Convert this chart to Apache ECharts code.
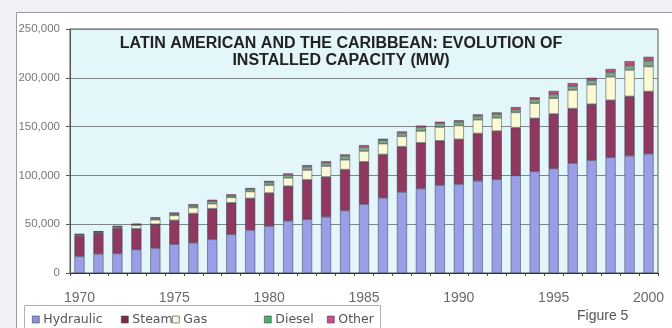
<!DOCTYPE html>
<html>
<head>
<meta charset="utf-8">
<script src="https://cdn.jsdelivr.net/npm/echarts@6/dist/echarts.min.js"></script>
<style>
  html, body { margin: 0; padding: 0; background: #f1f1f5; }
  #chart { width: 672px; height: 328px; }
</style>
</head>
<body>
<div id="chart"></div>
<script>
// Installed capacity in Latin America and the Caribbean, MW per year
const years = ['1970','1971','1972','1973','1974','1975','1976','1977','1978','1979',
  '1980','1981','1982','1983','1984','1985','1986','1987','1988','1989',
  '1990','1991','1992','1993','1994','1995','1996','1997','1998','1999','2000'];
const hydraulic = [17000,19500,20000,24000,25500,29500,31000,34500,39500,44000,
  48000,53500,55000,57500,64000,70500,77000,83000,86500,90000,
  91000,94500,96000,100000,104000,107000,112500,115500,118500,120000,122000];
const steam = [21000,21500,26000,21500,24500,24500,30000,31500,32500,32500,
  34000,35500,40500,41000,42000,43500,44500,46500,47000,45500,
  46000,48500,49500,49000,54500,56000,56000,57500,58500,61000,64000];
const gas = [1000,1000,1200,3500,4500,5000,6000,5000,5500,7000,
  8000,8500,10000,11000,10000,11000,11000,10500,12000,14000,
  14000,14000,13500,15500,15500,16000,19000,20000,24000,27000,25500];
const diesel = [500,300,500,800,1500,1500,2000,2500,2000,2500,
  3000,3000,3500,3500,4000,4000,3500,3500,4000,4000,
  4000,4000,4000,3000,4000,4000,4000,4500,4500,4500,6000];
const other = [500,300,500,700,1000,1500,1500,1500,1000,1000,
  1300,1500,1500,1500,1500,2000,1500,1500,1500,1500,
  1500,1500,1500,2500,2000,3500,3000,2500,3500,4500,4000];
const yTicks = [0, 50000, 100000, 150000, 200000, 250000];

const seriesDefs = [
  { name: 'Hydraulic', data: hydraulic, color: '#9a9ee6' },
  { name: 'Steam', data: steam, color: '#8f3862' },
  { name: 'Gas', data: gas, color: '#fcfad2' },
  { name: 'Diesel', data: diesel, color: '#7fa583' },
  { name: 'Other', data: other, color: '#c24c75' }
];
const legendIcons = { Hydraulic: '#8e92d8', Steam: '#7a2a4e', Gas: '#f4f4e0', Diesel: '#4fae6a', Other: '#c8508a' };
const legendLeft = { Hydraulic: 27, Steam: 116, Gas: 167, Diesel: 259, Other: 322 };

const fmt = v => v === 0 ? '0' : v.toLocaleString('en-US');

const chart = echarts.init(document.getElementById('chart'), null, { renderer: 'canvas' });

chart.setOption({
  backgroundColor: 'transparent',
  animation: false,
  graphic: [
    { type: 'rect', z: -10, shape: { x: 16.5, y: 12.5, width: 670, height: 330 },
      style: { fill: '#ffffff', stroke: '#9a9aa0', lineWidth: 1 } },
    { type: 'rect', z: 0, shape: { x: 24.5, y: 305.5, width: 356, height: 30 },
      style: { fill: '#ffffff', stroke: '#b0b0b4', lineWidth: 1 } },
    { type: 'text', left: 577, top: 309,
      style: { text: 'Figure 5', fill: '#555', font: '14px "Liberation Sans", Arial, sans-serif' } }
  ],
  title: {
    text: 'LATIN AMERICAN AND THE CARIBBEAN: EVOLUTION OF\nINSTALLED CAPACITY (MW)',
    left: 336, top: 30, textAlign: 'center',
    textStyle: { fontFamily: '"Liberation Sans", Arial, sans-serif', fontWeight: 'bold',
      fontSize: 16, lineHeight: 17, color: '#222' }
  },
  legend: seriesDefs.map(s => ({
    data: [{ name: s.name, itemStyle: { color: legendIcons[s.name], borderColor: '#444', borderWidth: 0.6 } }],
    left: legendLeft[s.name], top: 308, icon: 'rect', itemWidth: 7, itemHeight: 7, itemGap: 4,
    selectedMode: false,
    textStyle: { fontFamily: '"DejaVu Sans", sans-serif', fontSize: 12.5, color: '#555', padding: [0, 0, 0, -1] }
  })),
  grid: { left: 70, right: 14, top: 29, bottom: 55, show: true,
    backgroundColor: '#e3f6fa', borderColor: '#555', borderWidth: 1 },
  xAxis: {
    type: 'category', data: years,
    axisLine: { lineStyle: { color: '#333', width: 1 } },
    axisTick: { show: true, length: 3, interval: 0, lineStyle: { color: '#444' } },
    axisLabel: { interval: 4, margin: 18, fontSize: 14, color: '#6a6a6a',
      fontFamily: '"Liberation Sans", Arial, sans-serif' }
  },
  yAxis: {
    type: 'value', min: 0, max: 250000, interval: 50000,
    axisLine: { show: true, lineStyle: { color: '#555' } },
    axisTick: { show: true, length: 4, lineStyle: { color: '#555' } },
    splitLine: { lineStyle: { color: '#7d8787', width: 1 } },
    axisLabel: { margin: 10, fontSize: 11.5, color: '#777',
      fontFamily: '"Liberation Sans", Arial, sans-serif',
      formatter: v => yTicks.includes(v) ? fmt(v) : '' }
  },
  series: seriesDefs.map(s => ({
    name: s.name, type: 'bar', stack: 'capacity', data: s.data, barWidth: 10,
    itemStyle: { color: s.color, borderColor: '#3a3a48', borderWidth: 0.5 }
  }))
});
</script>
</body>
</html>
